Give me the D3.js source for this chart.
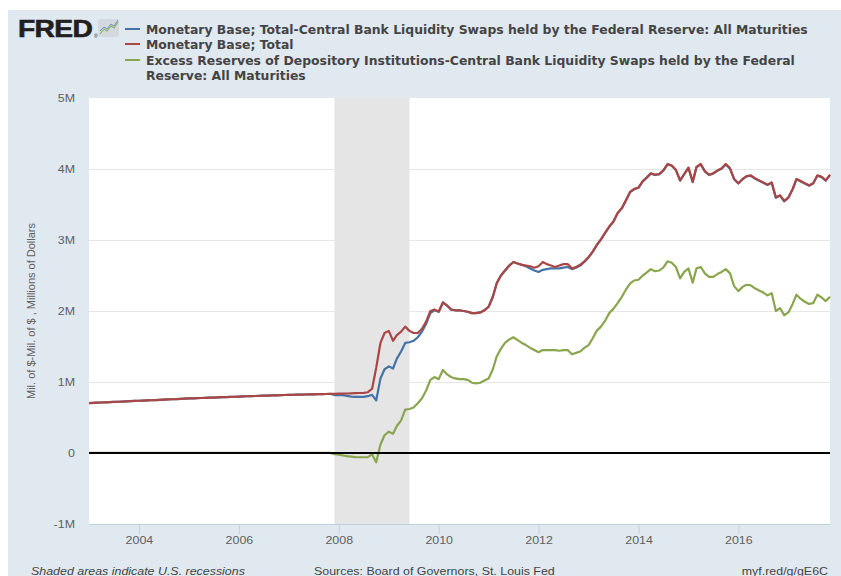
<!DOCTYPE html>
<html>
<head>
<meta charset="utf-8">
<script src="https://cdn.jsdelivr.net/npm/d3@7"></script>
<style>
  body { margin: 0; background: #fff; }
  svg { display: block; }
</style>
</head>
<body>
<div class="chart"></div>
<script>
// monthly, Jan 2003 .. Nov 2017, millions of dollars expressed in M (millions of millions)
var startMonth = new Date(2003, 0, 1)
var endMonth = new Date(2017, 10, 1)

var seriesNames = [
  "Monetary Base; Total-Central Bank Liquidity Swaps held by the Federal Reserve: All Maturities",
  "Monetary Base; Total",
  "Excess Reserves of Depository Institutions-Central Bank Liquidity Swaps held by the Federal",
  "Reserve: All Maturities"
]

var baseTotal = [
  0.703,0.706,0.709,0.711,0.714,0.716,0.719,0.722,0.724,0.727,0.730,0.733, // 2003
  0.736,0.738,0.741,0.743,0.746,0.749,0.752,0.754,0.757,0.760,0.762,0.765, // 2004
  0.768,0.770,0.772,0.775,0.777,0.779,0.781,0.784,0.786,0.788,0.790,0.792, // 2005
  0.794,0.797,0.799,0.801,0.803,0.805,0.807,0.809,0.811,0.813,0.815,0.817, // 2006
  0.819,0.820,0.822,0.823,0.824,0.826,0.827,0.828,0.829,0.831,0.832,0.834, // 2007
  0.836,0.835,0.838,0.840,0.842,0.845,0.848,0.856,0.905,1.200,1.550,1.690, // 2008
  1.720,1.580,1.660,1.710,1.780,1.720,1.690,1.690,1.750,1.850,2.000,2.020, // 2009
  1.990,2.120,2.080,2.020,2.010,2.010,2.000,1.990,1.970,1.970,1.980,2.010, // 2010
  2.060,2.200,2.390,2.500,2.570,2.640,2.690,2.670,2.650,2.640,2.630,2.610, // 2011
  2.630,2.690,2.660,2.640,2.620,2.640,2.660,2.660,2.600,2.620,2.650,2.700, // 2012
  2.760,2.840,2.930,3.010,3.100,3.190,3.260,3.380,3.450,3.560,3.680,3.720, // 2013
  3.740,3.830,3.880,3.940,3.920,3.930,3.980,4.070,4.050,3.990,3.840,3.930, // 2014
  4.020,3.820,4.030,4.070,3.970,3.920,3.940,3.980,4.010,4.070,4.010,3.860, // 2015
  3.800,3.860,3.900,3.910,3.870,3.840,3.810,3.780,3.810,3.600,3.630,3.550, // 2016
  3.600,3.720,3.860,3.830,3.800,3.770,3.800,3.910,3.890,3.840,3.920        // 2017
]

var baseLessSwaps = [
  0.703,0.706,0.709,0.711,0.714,0.716,0.719,0.722,0.724,0.727,0.730,0.733, // 2003
  0.736,0.738,0.741,0.743,0.746,0.749,0.752,0.754,0.757,0.760,0.762,0.765, // 2004
  0.768,0.770,0.772,0.775,0.777,0.779,0.781,0.784,0.786,0.788,0.790,0.792, // 2005
  0.794,0.797,0.799,0.801,0.803,0.805,0.807,0.809,0.811,0.813,0.815,0.817, // 2006
  0.819,0.820,0.822,0.823,0.824,0.826,0.827,0.828,0.829,0.831,0.832,0.816, // 2007
  0.820,0.815,0.805,0.795,0.790,0.790,0.790,0.800,0.820,0.740,1.050,1.180, // 2008
  1.220,1.190,1.330,1.430,1.550,1.560,1.580,1.630,1.710,1.820,1.970,2.010, // 2009
  1.990,2.120,2.080,2.020,2.010,2.010,2.000,1.990,1.970,1.970,1.980,2.010, // 2010
  2.060,2.200,2.390,2.500,2.570,2.640,2.690,2.670,2.650,2.630,2.600,2.570, // 2011
  2.550,2.580,2.590,2.600,2.600,2.600,2.610,2.620,2.590,2.610,2.640,2.690, // 2012
  2.755,2.835,2.925,3.005,3.095,3.185,3.255,3.375,3.445,3.555,3.675,3.715, // 2013
  3.735,3.825,3.875,3.935,3.915,3.925,3.975,4.065,4.045,3.985,3.835,3.925, // 2014
  4.015,3.815,4.025,4.065,3.965,3.915,3.935,3.975,4.005,4.065,4.005,3.855, // 2015
  3.795,3.855,3.895,3.905,3.865,3.835,3.805,3.775,3.805,3.595,3.625,3.545, // 2016
  3.595,3.715,3.855,3.825,3.795,3.765,3.795,3.905,3.885,3.835,3.915        // 2017
]

var excessLessSwaps = [
  0.002,0.002,0.001,0.002,0.002,0.001,0.002,0.002,0.002,0.002,0.001,0.002, // 2003
  0.002,0.001,0.002,0.002,0.001,0.002,0.002,0.001,0.002,0.002,0.001,0.002, // 2004
  0.002,0.002,0.001,0.002,0.001,0.002,0.002,0.001,0.002,0.002,0.002,0.002, // 2005
  0.002,0.001,0.002,0.002,0.001,0.002,0.002,0.002,0.001,0.002,0.002,0.002, // 2006
  0.002,0.001,0.002,0.002,0.002,0.001,0.002,0.002,0.003,0.002,0.002,-0.018, // 2007
  -0.025,-0.035,-0.045,-0.050,-0.058,-0.060,-0.060,-0.058,-0.020,-0.130,0.120,0.250, // 2008
  0.300,0.270,0.380,0.460,0.610,0.620,0.640,0.700,0.770,0.880,1.030,1.070, // 2009
  1.040,1.170,1.110,1.070,1.050,1.040,1.040,1.030,0.990,0.980,0.990,1.020, // 2010
  1.050,1.180,1.360,1.470,1.550,1.600,1.630,1.590,1.550,1.520,1.480,1.450, // 2011
  1.420,1.450,1.450,1.450,1.450,1.440,1.450,1.450,1.390,1.410,1.430,1.480, // 2012
  1.520,1.620,1.720,1.780,1.860,1.970,2.030,2.110,2.200,2.300,2.390,2.430, // 2013
  2.440,2.500,2.540,2.590,2.560,2.570,2.610,2.700,2.680,2.620,2.460,2.550, // 2014
  2.600,2.400,2.600,2.620,2.530,2.480,2.480,2.520,2.550,2.590,2.530,2.350, // 2015
  2.280,2.340,2.370,2.360,2.320,2.290,2.260,2.220,2.250,2.000,2.040,1.940, // 2016
  1.980,2.100,2.230,2.170,2.130,2.100,2.110,2.230,2.190,2.140,2.200        // 2017
]

var yTicks = [-1, 0, 1, 2, 3, 4, 5]
var yTickLabels = ["-1M", "0", "1M", "2M", "3M", "4M", "5M"]
var recession = [new Date(2007, 11, 1), new Date(2009, 5, 1)]
var colors = ["#4572a7", "#aa4643", "#89a54e"]

var months = d3.timeMonth.range(startMonth, d3.timeMonth.offset(endMonth, 1))

var W = 841, H = 576
var stretch = 1.13  // the picture's text is a little wide
var plot = {left: 89, right: 830, top: 98, bottom: 524}

var svg = d3.select('.chart').append('svg')
  .attr('width', W).attr('height', H)

svg.append('rect').attr('x', 8).attr('y', 10).attr('width', W - 8).attr('height', H - 10)
  .attr('fill', '#e1e9f0')

var x = d3.scaleTime()
  .domain([months[0], months[months.length - 1]])
  .range([plot.left, plot.right])

var y = d3.scaleLinear()
  .domain([-1, 5])
  .range([plot.bottom, plot.top])

svg.append('rect')
  .attr('x', plot.left).attr('y', plot.top)
  .attr('width', plot.right - plot.left).attr('height', plot.bottom - plot.top)
  .attr('fill', '#fff')

// recession band
svg.append('rect')
  .attr('x', x(recession[0])).attr('y', plot.top)
  .attr('width', x(recession[1]) - x(recession[0]))
  .attr('height', plot.bottom - plot.top)
  .attr('fill', '#e5e5e5')

// grid
var grid = svg.append('g')
  .attr('transform', 'translate(' + plot.left + ',0)')
  .call(d3.axisLeft(y).tickValues(yTicks.filter(function(d){ return d > -1 && d < 5 }))
    .tickSize(-(plot.right - plot.left)).tickFormat(''))
grid.select('.domain').remove()
grid.selectAll('line').attr('stroke', '#e6e6e6').attr('stroke-width', 1)

// y axis labels
var yAxis = svg.append('g')
  .attr('transform', 'translate(' + plot.left + ',0)')
  .call(d3.axisLeft(y).tickValues(yTicks).tickSize(0).tickPadding(12.4)
    .tickFormat(function(d, i){ return yTickLabels[yTicks.indexOf(d)] }))
yAxis.select('.domain').remove()
yAxis.selectAll('text')
  .attr('transform', 'scale(' + stretch + ',1)')
  .style('font-family', 'Liberation Sans, Arial, sans-serif')
  .style('font-size', '11px')
  .attr('fill', '#606060')

// x axis
var xAxis = svg.append('g')
  .attr('transform', 'translate(0,' + plot.bottom + ')')
  .call(d3.axisBottom(x).ticks(d3.timeYear.every(2)).tickSize(10).tickSizeOuter(0)
    .tickPadding(2).tickFormat(d3.timeFormat('%Y')))
xAxis.select('.domain').attr('stroke', '#c0d0e0')
xAxis.selectAll('line').attr('stroke', '#c0d0e0')
xAxis.selectAll('text')
  .attr('transform', 'scale(' + stretch + ',1)')
  .style('font-family', 'Liberation Sans, Arial, sans-serif')
  .style('font-size', '11px')
  .attr('fill', '#606060')

// y title
svg.append('text')
  .attr('transform', 'translate(35,311) rotate(-90)')
  .attr('text-anchor', 'middle')
  .style('font-family', 'Liberation Sans, Arial, sans-serif')
  .style('font-size', '11px')
  .attr('fill', '#606060')
  .text('Mil. of $-Mil. of $ , Millions of Dollars')

// series
var line = d3.line()
  .x(function(d, i){ return x(months[i]) })
  .y(function(d){ return y(d) })

var series = [baseLessSwaps, baseTotal, excessLessSwaps]
series.forEach(function(s, i){
  svg.append('path')
    .datum(s)
    .attr('fill', 'none')
    .attr('stroke', colors[i])
    .attr('stroke-width', 2.2)
    .attr('stroke-linejoin', 'round')
    .attr('d', line)
})

// zero line
svg.append('line')
  .attr('x1', plot.left).attr('x2', plot.right)
  .attr('y1', y(0)).attr('y2', y(0))
  .attr('stroke', '#000').attr('stroke-width', 2)

// FRED logo
svg.append('text')
  .attr('transform', 'translate(18,37) scale(1.2,1)')
  .style('font-family', 'Liberation Sans, Arial, sans-serif')
  .style('font-weight', 'bold')
  .style('font-size', '23.5px')
  .style('letter-spacing', '-0.5px')
  .attr('fill', '#231f20')
  .attr('stroke', '#231f20').attr('stroke-width', 0.6)
  .text('FRED')
svg.append('text')
  .attr('x', 94).attr('y', 38)
  .style('font-family', 'Liberation Sans, Arial, sans-serif')
  .style('font-size', '5px')
  .attr('fill', '#231f20')
  .text('®')
var icon = svg.append('g').attr('transform', 'translate(98,19)')
icon.append('rect').attr('width', 21).attr('height', 18).attr('rx', 2).attr('fill', '#d3d9df')
icon.append('polyline').attr('points', '2,15 6,10 9,12 13,7 16,9 20,3')
  .attr('fill', 'none').attr('stroke', '#8fb35a').attr('stroke-width', 1.2)
icon.append('polyline').attr('points', '2,12 6,8 9,10 13,5 16,7 20,1')
  .attr('fill', 'none').attr('stroke', '#6a93c0').attr('stroke-width', 1)

// legend
var legendRows = [29, 44, 60, 75]
seriesNames.forEach(function(name, i){
  if (i < 3) {
    svg.append('line')
      .attr('x1', 125).attr('x2', 140)
      .attr('y1', legendRows[i]).attr('y2', legendRows[i])
      .attr('stroke', colors[i]).attr('stroke-width', 2)
  }
  svg.append('text')
    .attr('x', 146).attr('y', legendRows[i] + 4.5)
    .style('font-family', 'DejaVu Sans, Verdana, sans-serif')
    .style('font-weight', 'bold')
    .style('font-size', '12.4px')
    .attr('fill', '#444')
    .text(name)
})

// footer
function footer(txt, xPos, anchor, italic){
  svg.append('text')
    .attr('transform', 'translate(' + xPos + ',574.5) scale(' + stretch + ',1)')
    .attr('text-anchor', anchor)
    .style('font-family', 'Liberation Sans, Arial, sans-serif')
    .style('font-size', '11px')
    .style('font-style', italic ? 'italic' : 'normal')
    .attr('fill', '#444')
    .text(txt)
}
footer('Shaded areas indicate U.S. recessions', 31, 'start', true)
footer('Sources: Board of Governors, St. Louis Fed', 314, 'start', false)
footer('myf.red/g/gE6C', 828, 'end', false)
</script>
</body>
</html>
